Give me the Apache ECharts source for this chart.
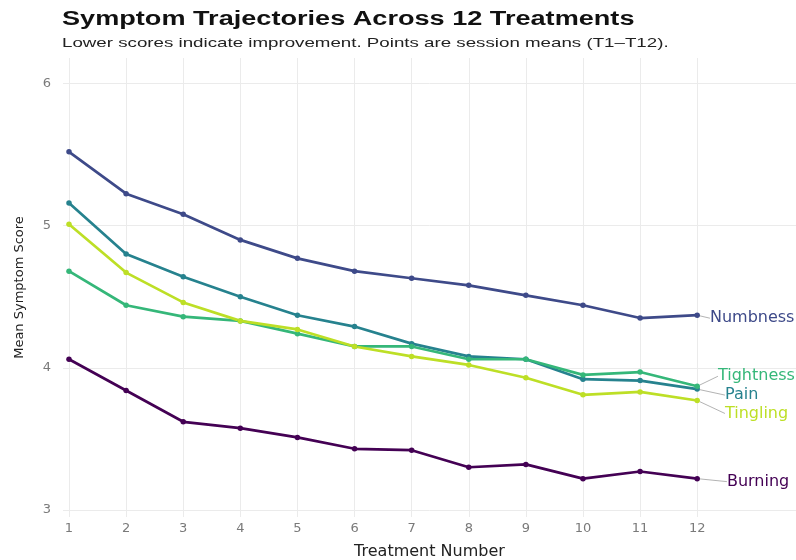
<!DOCTYPE html>
<html>
<head>
<meta charset="utf-8">
<title>Symptom Trajectories</title>
<script src="https://cdn.jsdelivr.net/npm/echarts@6/dist/echarts.min.js"></script>
<style>
html,body{margin:0;padding:0;background:#fff;}
#chart{width:796px;height:560px;}
</style>
</head>
<body>
<div id="chart"></div>
<script>
// session means, T1..T12
const treatments = [1, 2, 3, 4, 5, 6, 7, 8, 9, 10, 11, 12];
const burning   = [4.06, 3.84, 3.62, 3.575, 3.51, 3.43, 3.42, 3.30, 3.32, 3.22, 3.27, 3.22];
const numbness  = [5.52, 5.225, 5.08, 4.90, 4.77, 4.68, 4.63, 4.58, 4.51, 4.44, 4.35, 4.37];
const pain      = [5.16, 4.80, 4.64, 4.50, 4.37, 4.29, 4.17, 4.08, 4.06, 3.92, 3.91, 3.85];
const tightness = [4.68, 4.44, 4.36, 4.33, 4.24, 4.15, 4.15, 4.06, 4.06, 3.95, 3.97, 3.87];
const tingling  = [5.01, 4.67, 4.46, 4.33, 4.27, 4.15, 4.08, 4.02, 3.93, 3.81, 3.83, 3.77];
const yTicks = [3, 4, 5, 6];

const symptoms = [
	{ name: 'Burning',   values: burning,   color: '#440154' },
	{ name: 'Numbness',  values: numbness,  color: '#3e4a89' },
	{ name: 'Pain',      values: pain,      color: '#26828e' },
	{ name: 'Tightness', values: tightness, color: '#35b779' },
	{ name: 'Tingling',  values: tingling,  color: '#bddf26' }
];
// where the end labels get pushed to (repel style)
const labelShift = {
	Burning:   { dx: 22, dy: 3 },
	Numbness:  { dx: 5,  dy: 3 },
	Pain:      { dx: 20, dy: 6 },
	Tightness: { dx: 13, dy: -10 },
	Tingling:  { dx: 20, dy: 13 }
};

const font = 'DejaVu Sans';
let chart = echarts.init(document.getElementById('chart'));

let series = symptoms.map(s => {
	const last = s.values.length - 1;
	return {
		name: s.name,
		type: 'line',
		color: s.color,
		symbol: 'circle',
		symbolSize: 5.5,
		lineStyle: { width: 2.7, color: s.color },
		itemStyle: { color: s.color },
		label: { show: false },
		labelLine: { show: true, lineStyle: { color: '#a0a0a0', width: 0.8 } },
		labelLayout: params => {
			if (params.dataIndex !== last) return {};
			return labelShift[s.name];
		},
		data: s.values.map((v, i) => {
			if (i !== last) return [treatments[i], v];
			return {
				value: [treatments[i], v],
				label: {
					show: true,
					position: 'right',
					distance: 5,
					formatter: s.name,
					color: s.color,
					fontFamily: font,
					fontSize: 16
				}
			};
		})
	};
});

chart.setOption({
	animation: false,
	backgroundColor: '#fff',
	// title + subtitle, the reference type is stretched sideways so scale it
	graphic: [{
		type: 'text',
		x: 62, y: 20,
		scaleX: 1.39,
		style: {
			text: 'Symptom Trajectories Across 12 Treatments',
			font: 'bold 19.5px "Liberation Sans", Arial, sans-serif',
			fill: '#111',
			verticalAlign: 'middle'
		}
	}, {
		type: 'text',
		x: 62, y: 43,
		scaleX: 1.44,
		style: {
			text: 'Lower scores indicate improvement. Points are session means (T1\u2013T12).',
			font: '13px "Liberation Sans", Arial, sans-serif',
			fill: '#222',
			verticalAlign: 'middle'
		}
	}],
	grid: { left: 63, right: 0, top: 58, bottom: 43, outerBoundsMode: 'none' },
	xAxis: {
		type: 'value',
		min: 0.895, max: 13.73,
		name: 'Treatment Number',
		nameLocation: 'middle',
		nameGap: 27,
		nameTextStyle: { fontFamily: font, fontSize: 16, color: '#222' },
		axisLine: { show: false },
		axisTick: { show: false, customValues: treatments },
		axisLabel: { customValues: treatments, fontFamily: font, fontSize: 13, color: '#7a7a7a', margin: 5 },
		splitLine: { show: true, lineStyle: { color: '#ebebeb', width: 1 } }
	},
	yAxis: {
		type: 'value',
		min: 2.95, max: 6.18,
		name: 'Mean Symptom Score',
		nameLocation: 'middle',
		nameGap: 37,
		nameTextStyle: { fontFamily: font, fontSize: 13, color: '#222' },
		axisLine: { show: false },
		axisTick: { show: false, customValues: yTicks },
		axisLabel: { customValues: yTicks, fontFamily: font, fontSize: 13, color: '#7a7a7a', margin: 12 },
		splitLine: { show: true, lineStyle: { color: '#ebebeb', width: 1 } }
	},
	series: series
});
</script>
</body>
</html>
